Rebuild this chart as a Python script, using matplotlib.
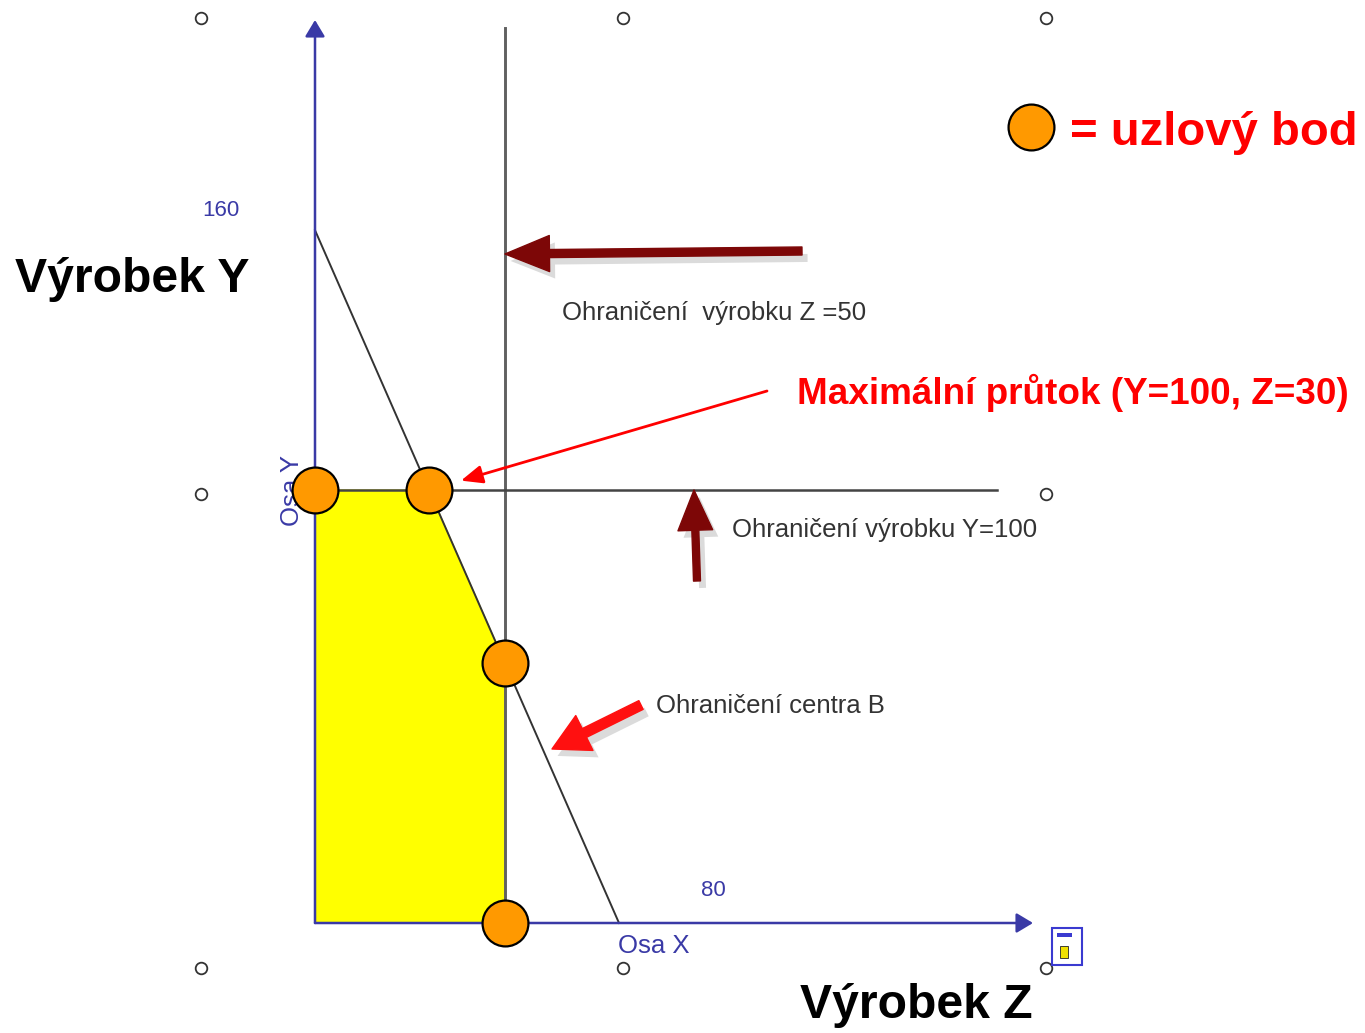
import numpy as np
import matplotlib
matplotlib.use("Agg")
import matplotlib.pyplot as plt
import matplotlib.patheffects as pe
from matplotlib.patches import Rectangle

# data of the diagram (product Z on x, product Y on y)
z_limit = 50
y_limit = 100
centre_b_z = [0, 80]
centre_b_y = [160, 0]
feasible_z = [0, 0, 30, 50, 50]
feasible_y = [0, 100, 100, 60, 0]
node_z = [0, 30, 50, 50]
node_y = [100, 100, 60, 0]
tick_160 = "160"
tick_80 = "80"

W, H = 1365, 1033
fig = plt.figure(figsize=(W / 100, H / 100), dpi=100)
ax = fig.add_axes([0, 0, 1, 1])

# pixel scale of the drawing
sx, sy = 3.8, 4.33
x0, y0 = 315, 923
ax.set_xlim(-x0 / sx, (W - x0) / sx)
ax.set_ylim(-(H - y0) / sy, y0 / sy)
ax.axis("off")


def fp(x, y):
    # pixel position -> figure fraction
    return (x / W, 1 - y / H)


def dz(x):
    # pixel x -> data z
    return (x - x0) / sx


def dy(y):
    # pixel y -> data y
    return (y0 - y) / sy


font = ["Liberation Sans", "DejaVu Sans"]
blue = "#3a3aa6"
dark_red = "#7d0707"
shadow = [pe.SimplePatchShadow(offset=(4, -5), shadow_rgbFace="#888888", alpha=0.3), pe.Normal()]

# feasible region
ax.fill(feasible_z, feasible_y, color="#ffff00", zorder=1)

# constraints
ax.plot([z_limit, z_limit], [0, dy(28)], color="#606060", lw=2.1, zorder=2)
ax.plot([0, dz(997)], [y_limit, y_limit], color="#444444", lw=1.8, zorder=2)
ax.plot(centre_b_z, centre_b_y, color="#333333", lw=1.4, zorder=2)

# axes arrows
ax.annotate("", xy=(0, dy(20)), xytext=(0, 0),
            arrowprops=dict(arrowstyle="-|>,head_length=1.0,head_width=0.6",
                            mutation_scale=10, color=blue, lw=1.8, shrinkA=0, shrinkB=0), zorder=3)
ax.annotate("", xy=(dz(1033), 0), xytext=(0, 0),
            arrowprops=dict(arrowstyle="-|>,head_length=1.0,head_width=0.6",
                            mutation_scale=10, color=blue, lw=1.8, shrinkA=0, shrinkB=0), zorder=3)

ax.text(*fp(221, 210), tick_160, transform=fig.transFigure, ha="center", va="center",
        fontsize=16, color=blue, family=font)
ax.text(*fp(713, 891), tick_80, transform=fig.transFigure, ha="center", va="center",
        fontsize=16, color=blue, family=font)
ax.text(*fp(292, 490), "Osa Y", transform=fig.transFigure, ha="center", va="center",
        rotation=90, fontsize=18.5, color=blue, family=font)
ax.text(*fp(654, 946), "Osa X", transform=fig.transFigure, ha="center", va="center",
        fontsize=18.5, color=blue, family=font)

# node points
ax.scatter(node_z, node_y, s=1090, color="#ff9900", edgecolor="black", lw=1.6, zorder=5)

# legend node
ax.scatter(*fp(1031, 127), s=1090, color="#ff9900", edgecolor="black", lw=1.6,
           transform=fig.transFigure, zorder=5)
ax.text(*fp(1070, 133), "= uzlový bod", transform=fig.transFigure, ha="left", va="center",
        fontsize=34, fontweight="bold", color="#ff0000", family=font)

# big labels
ax.text(*fp(15, 280), "Výrobek Y", transform=fig.transFigure, ha="left", va="center",
        fontsize=34.7, fontweight="bold", color="black", family=font)
ax.text(*fp(800, 1005), "Výrobek Z", transform=fig.transFigure, ha="left", va="center",
        fontsize=34.7, fontweight="bold", color="black", family=font)
ax.text(*fp(797, 393), "Maximální průtok (Y=100, Z=30)", transform=fig.transFigure,
        ha="left", va="center", fontsize=26.6, fontweight="bold", color="#ff0000", family=font)

# constraint labels
ax.text(*fp(562, 313), "Ohraničení  výrobku Z =50", transform=fig.transFigure, ha="left",
        va="center", fontsize=18.5, color="#333333", family=font)
ax.text(*fp(732, 530), "Ohraničení výrobku Y=100", transform=fig.transFigure, ha="left",
        va="center", fontsize=18.5, color="#333333", family=font)
ax.text(*fp(656, 706), "Ohraničení centra B", transform=fig.transFigure, ha="left",
        va="center", fontsize=18.5, color="#333333", family=font)

# pointer arrows
a = ax.annotate("", xy=(z_limit, dy(254)), xytext=fp(802, 251), textcoords="figure fraction",
                arrowprops=dict(arrowstyle="simple,head_length=3.2,head_width=2.6,tail_width=0.58",
                                mutation_scale=10, color=dark_red, shrinkA=0, shrinkB=0), zorder=4)
a.arrow_patch.set_path_effects(shadow)
a = ax.annotate("", xy=(dz(694), y_limit), xytext=fp(697, 581), textcoords="figure fraction",
                arrowprops=dict(arrowstyle="simple,head_length=2.9,head_width=2.5,tail_width=0.5",
                                mutation_scale=10, color=dark_red, shrinkA=0, shrinkB=0), zorder=4)
a.arrow_patch.set_path_effects(shadow)
a = ax.annotate("", xy=fp(552, 749), xytext=fp(641, 705), xycoords="figure fraction",
                arrowprops=dict(arrowstyle="simple,head_length=2.6,head_width=2.8,tail_width=0.7",
                                mutation_scale=10, color="#ff1010", shrinkA=0, shrinkB=0), zorder=4)
a.arrow_patch.set_path_effects(shadow)
ax.annotate("", xy=(node_z[1], node_y[1]), xytext=fp(767, 391), textcoords="figure fraction",
            arrowprops=dict(arrowstyle="-|>,head_length=1.3,head_width=0.55",
                            mutation_scale=10, color="#ff0000", lw=2, shrinkA=0, shrinkB=24),
            zorder=6)

# selection handles
hx = [201, 623, 1046, 201, 1046, 201, 623, 1046]
hy = [18, 18, 18, 494, 494, 968, 968, 968]
for x, y in zip(hx, hy):
    ax.scatter(*fp(x, y), s=70, facecolor="white", edgecolor="#333333", lw=1.3,
               transform=fig.transFigure, zorder=7)

# small object icon in the corner
fig.patches.append(Rectangle(fp(1052, 965), 30 / W, 37 / H, transform=fig.transFigure,
                             facecolor="white", edgecolor="#3a3ad0", lw=1.5, zorder=6))
fig.patches.append(Rectangle(fp(1057, 937), 15 / W, 4 / H, transform=fig.transFigure,
                             facecolor="#3a3ad0", edgecolor="none", zorder=7))
fig.patches.append(Rectangle(fp(1060, 958), 8 / W, 12 / H, transform=fig.transFigure,
                             facecolor="#f0e000", edgecolor="#222222", lw=0.6, zorder=7))

fig.savefig("out.png", dpi=100, facecolor="white")
